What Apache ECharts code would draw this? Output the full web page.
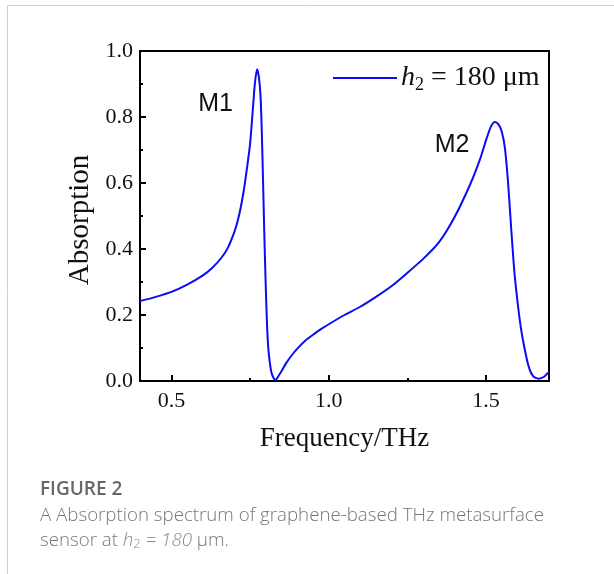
<!DOCTYPE html>
<html>
<head>
<meta charset="utf-8">
<script src="https://cdn.jsdelivr.net/npm/echarts@6/dist/echarts.min.js"></script>
<style>
html,body{margin:0;padding:0;background:#fff;}
#c{width:614px;height:574px;}
</style>
</head>
<body>
<div id="c"></div>
<script>
// Frequency (THz)
const freq = [0.40,0.45,0.50,0.55,0.60,0.63,0.66,0.68,0.70,0.71,0.72,0.73,0.74,0.75,0.76,0.765,0.772,0.778,0.783,0.787,0.791,0.795,0.799,0.803,0.807,0.812,0.818,0.825,0.831,0.84,0.85,0.865,0.88,0.90,0.925,0.95,0.975,1.00,1.05,1.10,1.15,1.20,1.25,1.30,1.35,1.40,1.45,1.48,1.50,1.515,1.528,1.54,1.55,1.56,1.57,1.58,1.59,1.60,1.61,1.62,1.635,1.65,1.667,1.683,1.70];
// Absorption
const absorption = [0.242,0.255,0.270,0.292,0.320,0.343,0.375,0.405,0.452,0.483,0.525,0.578,0.645,0.720,0.840,0.900,0.945,0.920,0.865,0.760,0.610,0.450,0.310,0.190,0.110,0.060,0.025,0.008,0.003,0.015,0.030,0.055,0.075,0.098,0.122,0.140,0.157,0.172,0.200,0.225,0.255,0.288,0.328,0.370,0.420,0.497,0.597,0.670,0.730,0.770,0.785,0.777,0.755,0.705,0.600,0.460,0.330,0.240,0.165,0.110,0.045,0.014,0.007,0.012,0.028];
const xTicks = [0.5, 1.0, 1.5];
const xMinorTicks = [0.75, 1.25];
const seriesName = 'h2 = 180 μm';

const chart = echarts.init(document.getElementById('c'), null, {renderer:'canvas'});
const serif = '"Liberation Serif","Times New Roman",serif';
const sans = '"Liberation Sans",Arial,sans-serif';
const capFont = '"Open Sans","Noto Sans",sans-serif';
const ink = '#111';

chart.setOption({
  animation:false,
  backgroundColor:'#fff',
  grid:{left:140,top:51,right:65,bottom:193,show:true,borderColor:'#000',borderWidth:2,backgroundColor:'transparent'},
  xAxis:[{
    type:'value', min:0.4, max:1.7,
    name:'Frequency/THz', nameLocation:'middle', nameGap:44,
    nameTextStyle:{fontFamily:serif,fontSize:27,color:ink},
    axisLine:{show:true,onZero:false,lineStyle:{color:'#000',width:2}},
    axisTick:{show:true,inside:true,length:6,lineStyle:{color:'#000',width:2},customValues:xTicks},
    axisLabel:{fontFamily:serif,fontSize:22,color:ink,margin:9,customValues:xTicks,formatter:v=>v.toFixed(1)},
    splitLine:{show:false}
  },{
    type:'value', min:0.4, max:1.7, position:'bottom',
    axisLine:{show:false},
    axisTick:{show:true,inside:true,length:3,lineStyle:{color:'#000',width:2},customValues:xMinorTicks},
    axisLabel:{show:false},
    splitLine:{show:false}
  }],
  yAxis:{
    type:'value', min:0, max:1, interval:0.2,
    name:'Absorption', nameLocation:'middle', nameGap:32, nameRotate:90,
    nameTextStyle:{fontFamily:serif,fontSize:29,color:ink,padding:[0,8,0,0]},
    axisLine:{show:true,lineStyle:{color:'#000',width:2}},
    axisTick:{show:true,inside:true,length:6,lineStyle:{color:'#000',width:2}},
    minorTick:{show:true,splitNumber:2,length:3,lineStyle:{color:'#000',width:2}},
    axisLabel:{fontFamily:serif,fontSize:22,color:ink,margin:7,formatter:v=>v.toFixed(1)},
    splitLine:{show:false}
  },
  legend:{show:false},
  series:[{
    name:seriesName, type:'line', xAxisIndex:0,
    data:freq.map((f,i)=>[f,absorption[i]]),
    showSymbol:false, symbol:'none', smooth:0.25,
    lineStyle:{color:'#0b0bf5',width:2}, itemStyle:{color:'#0b0bf5'},
    markPoint:{silent:true,symbol:'circle',symbolSize:0,
      label:{show:true,fontFamily:sans,fontSize:25,color:ink,formatter:p=>p.name},
      data:[{name:'M1',coord:[0.640,0.838]},{name:'M2',coord:[1.392,0.715]}]
    }
  }],
  graphic:[
    {type:'line',shape:{x1:7.5,y1:5.5,x2:614,y2:5.5},style:{stroke:'#cfcfcf',lineWidth:1},silent:true},
    {type:'line',shape:{x1:7.5,y1:5.5,x2:7.5,y2:574},style:{stroke:'#cfcfcf',lineWidth:1},silent:true},
    // legend
    {type:'line',shape:{x1:333,y1:78,x2:397,y2:78},style:{stroke:'#0b0bf5',lineWidth:2},silent:true},
    {type:'text',left:401,top:62,silent:true,style:{
      text:'{h|h}{s|2}{n| = 180 μm}',
      rich:{
        h:{fontFamily:serif,fontSize:28,fontStyle:'italic',fill:ink,lineHeight:30},
        s:{fontFamily:serif,fontSize:18,fill:ink,padding:[14,0,0,0],lineHeight:30},
        n:{fontFamily:serif,fontSize:28,fill:ink,lineHeight:30}
      }}},
    // caption
    {type:'text',left:40,top:480,style:{text:'FIGURE 2',fontFamily:capFont,fontSize:19,fontWeight:600,fill:'#666'}},
    {type:'text',left:40,top:506,style:{text:'A Absorption spectrum of graphene-based THz metasurface',fontFamily:capFont,fontSize:18.7,fontWeight:300,fill:'#777'}},
    {type:'text',left:40,top:531,style:{
      text:'{a|sensor at }{i|h}{s|2}{i| = 180}{a| μm.}',
      rich:{
        a:{fontFamily:capFont,fontSize:18.7,fontWeight:300,fill:'#777',lineHeight:24},
        i:{fontFamily:capFont,fontSize:18.7,fontStyle:'italic',fontWeight:300,fill:'#888',lineHeight:24},
        s:{fontFamily:capFont,fontSize:13,fontWeight:300,fill:'#888',padding:[7,0,0,0],lineHeight:24}
      }}}
  ]
});
</script>
</body>
</html>
